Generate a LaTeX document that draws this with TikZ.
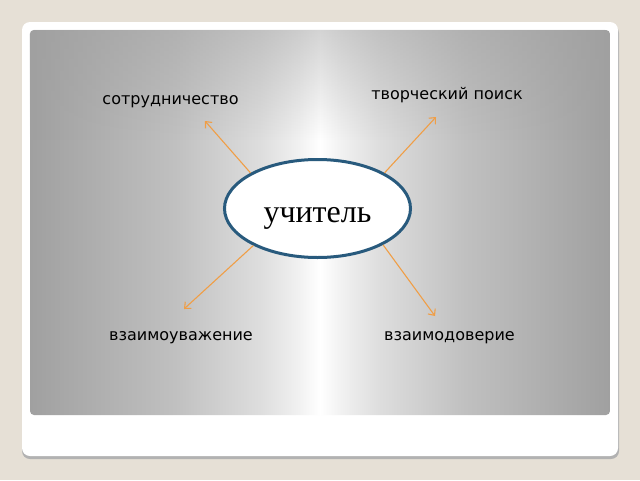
\documentclass[tikz,border=0pt]{standalone}
\usepackage{fontspec}
\setmainfont{Liberation Serif}
\newfontfamily\labelfont{DejaVu Sans}
\usetikzlibrary{shapes.geometric,arrows.meta,positioning,fadings}

\definecolor{slidebg}{RGB}{230,224,214}
\definecolor{slidegray}{RGB}{160,160,160}
\definecolor{slidemid}{RGB}{192,192,192}
\definecolor{slidelight}{RGB}{222,222,222}
\definecolor{slidepale}{RGB}{240,240,240}
\definecolor{ellblue}{RGB}{40,90,125}
\definecolor{arrorange}{RGB}{240,158,70}
\pgfdeclarehorizontalshading{slideshade}{100bp}{color(0bp)=(slidegray); color(25bp)=(slidegray); color(37.5bp)=(slidemid); color(45bp)=(slidelight); color(48bp)=(slidepale); color(50bp)=(white); color(52bp)=(slidepale); color(55bp)=(slidelight); color(62.5bp)=(slidemid); color(75bp)=(slidegray); color(100bp)=(slidegray)}

\begin{document}
\begin{tikzpicture}[x=1pt,y=-1pt,>={Straight Barb[length=5pt,width=9pt]},
    label/.style={font=\labelfont\fontsize{16}{18}\selectfont, anchor=base, inner sep=0pt},
    link/.style={->, draw=arrorange, line width=1.1pt}]
	\useasboundingbox (0,0) rectangle (640,480);
	% slide background
	\fill[slidebg] (0,0) rectangle (640,480);
	\fill[black!30, rounded corners=8pt] (22,25) rectangle (619,459);
	\fill[white, rounded corners=8pt] (22,22) rectangle (618,456);
	\shade[rounded corners=4pt, shading=slideshade] (30,30) rectangle (610,415);
	\fill[slidegray, rounded corners=4pt, path fading=south, fill opacity=0.45] (30,30) rectangle (610,140);

	% create the nodes
	\node (teacher)[shape=ellipse, draw=ellblue, line width=3pt, fill=white, minimum width=186pt, minimum height=98pt, inner sep=0pt] at (317.5,208.5) {};
	\node (teachertext)[anchor=base, inner sep=0pt, font=\fontsize{32}{36}\selectfont] at (317.5,222) {учитель};
	\node (coop)[label] at (170.5,104) {сотрудничество};
	\node (search)[label] at (447,99) {творческий поиск};
	\node (respect)[label] at (181,340) {взаимоуважение};
	\node (trust)[label] at (449.5,340) {взаимодоверие};
	\coordinate (coopend) at (205,121);
	\coordinate (searchend) at (436,117);
	\coordinate (respectend) at (184,309);
	\coordinate (trustend) at (435,316);

	% connect the nodes
	\draw[link] (teacher.152) to (coopend);
	\draw[link] (teacher.28) to (searchend);
	\draw[link] (teacher.210) to (respectend);
	\draw[link] (teacher.331) to (trustend);
\end{tikzpicture}
\end{document}
